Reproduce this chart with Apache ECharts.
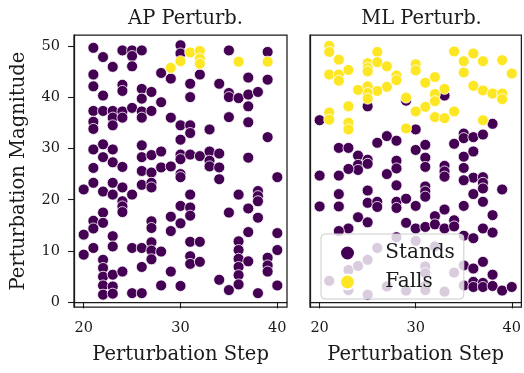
<!DOCTYPE html>
<html>
<head>
<meta charset="utf-8">
<script src="https://cdn.jsdelivr.net/npm/echarts@6/dist/echarts.min.js"></script>
<style>
  html, body { margin: 0; padding: 0; background: #fff; }
  #chart { width: 524px; height: 373px; }
</style>
</head>
<body>
<div id="chart"></div>
<script>
// Panel titles and tick values
const panelTitles = ['AP Perturb.', 'ML Perturb.'];
const xTicks = [20, 30, 40];
const yTicks = [0, 10, 20, 30, 40, 50];

// AP perturbation: [step, magnitude]
const apStands = [
  [21,49.6],[22,47.8],[23,45.9],[21,44.4],[21,42.1],[22,40.3],
  [24,49.1],[25,49.1],[26,49.1],[25,48],[25,46],
  [24,42.4],[24,41.2],[26,41.6],[26,39.7],[27,41],[28,39],
  [21,37.3],[22,37.3],[23,37.3],[24,37.2],[25,37.9],[26,37.2],[27,37.3],
  [23,36],[24,36],[26,36],[21,35.2],[21,33.8],[23,34.5],
  [28,44.7],[29,43.6],[30,50.1],[30,48.5],[31,42.6],[31,40],[32,44.4],[34,42.6],
  [35,49.1],[35,40.8],[35,40],[36,39.8],[37,43.8],[37,40.5],[37,38.2],[38,41],
  [39,48.8],[39,43.4],[29,36],[30,34.5],[31,34.5],[31,33],[33,33.7],[35,36.1],[37,35.1],[39,32.2],[30,31.7],
  [21,29.8],[22,30.8],[23,29.8],[22,28.3],[23,27.3],[24,26.4],[21,26.2],
  [26,30.6],[26,28.3],[27,28.7],[28,29.4],
  [26,25.6],[27,25.3],[28,26.3],[29,26.5],
  [30,28.8],[30,27.9],[31,28.8],[32,28.5],[33,29.4],[33,27.6],[33,26.5],[34,29],[34,26.3],[34,24],
  [37,28.2],[30,25],[30,24.4],[40,24.4],
  [20,22],[21,23.3],[22,21.6],[23,23.3],[23,21],[24,22.4],[25,21],[26,22.9],[27,23.3],[27,22.4],
  [24,19.7],[24,18.7],[24,17.6],[31,21],[36,21],[38,21.7],[38,20.7],[38,19.7],[37,18.3],[30,18.8],[31,18.5],
  [22,17.5],[21,15.9],[21,14.4],[22,15.5],[20,13.2],[23,12.9],[23,10.9],[21,10.6],[20,9.3],
  [22,8.3],[22,6.7],[22,5],[22,3.3],[22,1.5],[23,5.4],[23,3.1],[23,1.7],[24,6],
  [25,10.6],[25,1.8],[26,1.8],[26,10.6],[26,6.9],
  [27,15.8],[27,14.5],[27,11.7],[27,10.1],[27,8.4],[28,9.9],[28,3.3],
  [29,16.7],[29,13.9],[30,15.4],[31,16.9],
  [31,11.8],[32,11.8],[31,9],[31,7.5],[32,7.9],[30,3.2],[29,6],
  [34,4.4],[35,2.4],[35,17.5],[36,11.9],[36,10.2],[36,8.5],[36,6.9],[36,5.3],[36,3.5],
  [37,13.7],[37,8],[38,16.5],[38,1.8],[39,8.7],[39,7.2],[39,6],[40,13.5],[40,10.2],[40,3.3]
];
const apFalls = [
  [29,45.7],[30,47],[31,48.7],[32,49],[32,47.5],[32,46.5],[36,46.9],[39,46.9]
];

// ML perturbation: [step, magnitude]
const mlStands = [
  [20,35.5],[25,38.2],[29,39.3],[33,40.3],[30,33.7],[38,34.8],
  [22,30.1],[23,30.1],[24,28.6],[24,26.8],[24,25.8],[25,27.8],[25,27],[23,26],[22,24.7],[20,24.7],
  [26,31.1],[27,32.4],[28,31.5],[27,25],[28,27.6],[28,26.1],[28,22.8],
  [30,29.7],[31,30.7],[31,28.2],[31,26.4],
  [33,26.6],[33,25.5],[33,24.5],
  [34,30.9],[35,32.9],[35,32],[36,32.2],[37,32.7],[35,28.4],[36,29.4],[35,26.2],[36,24.3],[35,23.8],
  [37,24.4],[37,23.3],[37,22.2],[36,21.1],[39,22],[37,19.6],[35,18.8],[38,17],
  [25,21.8],[25,19.4],[26,19.6],[26,18.6],[28,19.6],[28,18.4],[29,20.2],[30,18.8],[31,22.6],[31,21.6],[31,20.6],
  [22,21.1],[22,18.7],[20,18.7],[33,18.1],
  [24,16.6],[25,15.6],[23,14.4],[22,13.9],[29,15.5],[30,14.4],[31,14.7],[32,16.8],[32,15.2],[33,14.4],
  [34,16],[34,14.8],[35,13],[36,12.5],[37,14.4],[38,13.6],
  [35,7.2],[36,6.6],[37,7.9],[38,5.4],[35,3.3],[36,4],[36,3],[37,3.8],[37,3],[38,3.2],[39,2.3],[40,3],
  [21,4.2],[23,6.3],[23,2.4],[24,7.1],[25,8.3],[25,1.5],[26,10.6],[27,3.1],[28,12.7],[29,2.3],
  [30,12],[31,7],[31,5.7],[31,3.2],[31,2.4],[32,10.9],[33,2.1],[34,5.8]
];
const mlFalls = [
  [21,50],[21,48.8],[22,47.3],[21,44.4],[22,44.4],[22,43.2],[23,45.3],
  [25,46.6],[25,45.7],[25,45],[26,48.8],[26,46.8],[27,46],[28,44.2],[28,43.3],[27,42],
  [26,41.2],[25,42.1],[25,40.8],[25,39.7],[24,41.4],[23,38.2],[21,37],[21,35.6],[23,35],[23,33.7],
  [30,46.4],[30,45.2],[31,42.8],[32,43.9],[33,41.6],[32,40.6],[32,39.2],[29,39.9],[31,38.1],[30,37.2],
  [32,36.1],[33,35.9],[34,37.2],
  [34,48.9],[35,47],[36,48.5],[37,47],[35,44.8],[39,47.2],[40,44.6],[36,42.2],[37,41.3],[38,40.7],
  [39,40.7],[39,39.6],[37,35.5],[29,33.9]
];

const STANDS_COLOR = '#440154';
const FALLS_COLOR = '#fde725';
const FONT = 'DejaVu Serif';
const INK = '#1a1a1a';
const LABEL_SIZE = 19.5;

const gridTop = 35, gridH = 272, gridW = 213;
const gridLefts = [74, 310];

function makeX(idx) {
  return {
    type: 'value', gridIndex: idx, min: 19, max: 41,
    splitLine: { show: false },
    axisLine: { show: true, lineStyle: { color: INK, width: 1.25 } },
    axisTick: { show: true, customValues: xTicks, length: 6, lineStyle: { color: INK, width: 1.1 } },
    axisLabel: { customValues: xTicks, fontFamily: FONT, fontSize: 14.5, color: INK, margin: 14 },
    name: 'Perturbation Step', nameLocation: 'middle', nameGap: 38,
    nameTextStyle: { fontFamily: FONT, fontSize: LABEL_SIZE, color: INK }
  };
}

function makeY(idx) {
  const left = idx === 0;
  return {
    type: 'value', gridIndex: idx, min: -0.9, max: 52.1,
    splitLine: { show: false },
    axisLine: { show: true, lineStyle: { color: INK, width: 1.25 } },
    axisTick: { show: left, customValues: yTicks, length: 6, lineStyle: { color: INK, width: 1.1 } },
    axisLabel: { show: left, customValues: yTicks, fontFamily: FONT, fontSize: 14.5, color: INK, margin: 14 },
    name: left ? 'Perturbation Magnitude' : '', nameLocation: 'middle', nameGap: 45,
    nameTextStyle: { fontFamily: FONT, fontSize: LABEL_SIZE, color: INK }
  };
}

function scatter(name, data, idx, color) {
  return {
    type: 'scatter', name: name, data: data,
    xAxisIndex: idx, yAxisIndex: idx,
    symbol: 'circle', symbolSize: 11,
    itemStyle: { color: color, borderColor: '#ffffff', borderWidth: 0.8, opacity: 1 },
    emphasis: { disabled: true }, silent: true
  };
}

const chart = echarts.init(document.getElementById('chart'), null, { renderer: 'canvas' });
chart.setOption({
  animation: false,
  backgroundColor: '#ffffff',
  title: panelTitles.map((t, i) => ({
    text: t, left: gridLefts[i] + gridW / 2, top: 4, textAlign: 'center',
    textStyle: { fontFamily: FONT, fontSize: LABEL_SIZE, fontWeight: 'normal', color: INK }
  })),
  grid: gridLefts.map(l => ({
    left: l, top: gridTop, width: gridW, height: gridH,
    show: true, borderColor: INK, borderWidth: 1.25, backgroundColor: 'transparent'
  })),
  xAxis: [makeX(0), makeX(1)],
  yAxis: [makeY(0), makeY(1)],
  legend: {
    orient: 'vertical', left: 321, top: 234,
    data: [{ name: 'Stands', icon: 'circle' }, { name: 'Falls', icon: 'circle' }],
    itemWidth: 40, itemHeight: 15, itemGap: 9,
    padding: [9, 9, 7, 18],
    backgroundColor: 'rgba(255,255,255,0.8)', borderColor: '#cccccc', borderWidth: 1, borderRadius: 4,
    formatter: n => '\u00a0\u00a0' + n,
    textStyle: { fontFamily: FONT, fontSize: 20, color: INK },
    selectedMode: false
  },
  series: [
    scatter('Stands', apStands, 0, STANDS_COLOR),
    scatter('Falls', apFalls, 0, FALLS_COLOR),
    scatter('Stands', mlStands, 1, STANDS_COLOR),
    scatter('Falls', mlFalls, 1, FALLS_COLOR)
  ]
});
</script>
</body>
</html>
